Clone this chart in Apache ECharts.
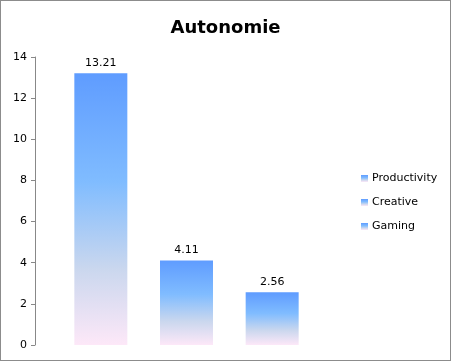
<!DOCTYPE html>
<html><head><meta charset="utf-8">
<script src="https://cdn.jsdelivr.net/npm/echarts@6/dist/echarts.min.js"></script>
<style>
html,body{margin:0;padding:0;background:#fff;}
#c{width:451px;height:361px;box-sizing:border-box;border:1px solid #8c8c8c;}
</style></head><body>
<div id="c"></div>
<script>
const categories = ['Productivity', 'Creative', 'Gaming'];
const values = [13.21, 4.11, 2.56];
const yTicks = { min: 0, max: 14, interval: 2 };

const grad = () => new echarts.graphic.LinearGradient(0, 0, 0, 1, [
  { offset: 0, color: '#5f9cff' },
  { offset: 0.4, color: '#80bcff' },
  { offset: 0.72, color: '#cad7ee' },
  { offset: 1, color: '#fde8f8' }
]);

const chart = echarts.init(document.getElementById('c'), null, { renderer: 'canvas' });
const font = 'DejaVu Sans';
const series = categories.map((name, i) => ({
  name: name,
  type: 'bar',
  stack: 'all',
  barWidth: 53,
  data: categories.map((c, j) => j === i ? values[i] : '-'),
  itemStyle: { color: grad() },
  label: { show: true, position: 'top', distance: 5, color: '#000', fontFamily: font, fontSize: 11,
           formatter: p => p.value.toFixed(2) },
  emphasis: { disabled: true }
}));

chart.setOption({
  animation: false,
  title: { text: 'Autonomie', left: 'center', top: 13,
    textStyle: { fontFamily: font, fontWeight: 'bold', fontSize: 18, color: '#000' } },
  legend: {
    orient: 'vertical', left: 360, top: 172, padding: 0, icon: 'rect',
    itemWidth: 7, itemHeight: 7, itemGap: 13,
    textStyle: { fontFamily: font, fontSize: 11, color: '#000', padding: [0, 0, 0, -1] },
    data: categories
  },
  grid: { left: 57, right: 135, top: 56, bottom: 15 },
  xAxis: { type: 'category', data: categories, axisLine: { show: false }, axisTick: { show: false },
           axisLabel: { show: false } },
  yAxis: { type: 'value', min: yTicks.min, max: yTicks.max, interval: yTicks.interval, offset: 23,
    axisLine: { show: true, lineStyle: { color: '#888' } },
    axisTick: { show: true, length: 4, lineStyle: { color: '#888' } },
    axisLabel: { color: '#000', fontFamily: font, fontSize: 11, margin: 8 },
    splitLine: { show: false } },
  series: series
});
</script></body></html>
